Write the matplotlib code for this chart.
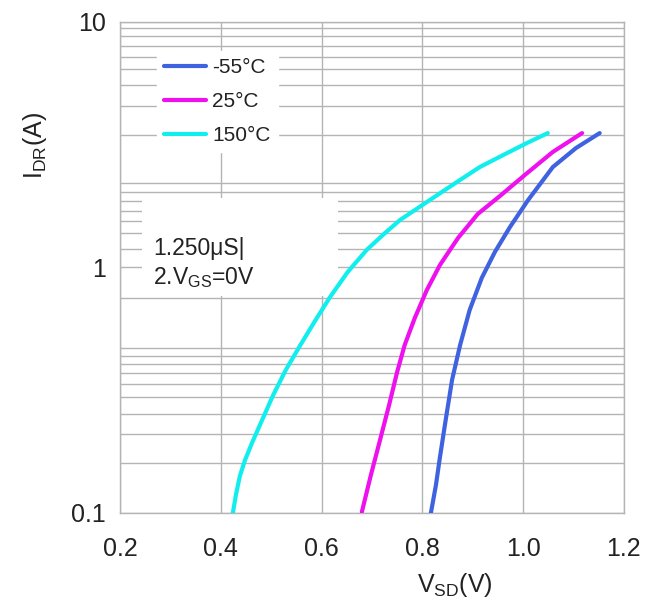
import numpy as np
import matplotlib.pyplot as plt
from matplotlib.ticker import FixedLocator, NullFormatter

plt.rcParams['font.family'] = ['Liberation Sans', 'DejaVu Sans']
plt.rcParams['mathtext.fontset'] = 'custom'
plt.rcParams['mathtext.rm'] = 'Liberation Sans'
plt.rcParams['mathtext.it'] = 'Liberation Sans'

# curves (V_SD in V, I_DR in A)
v_m55 = [0.817, 0.827, 0.835, 0.847, 0.859, 0.875, 0.894, 0.918, 0.944, 0.974,
         1.010, 1.059, 1.105, 1.152]
i_m55 = [0.100, 0.130, 0.169, 0.244, 0.348, 0.483, 0.671, 0.906, 1.155, 1.46,
         1.88, 2.56, 3.06, 3.52]

v_25 = [0.680, 0.698, 0.716, 0.734, 0.750, 0.765, 0.785, 0.809, 0.835, 0.871,
        0.910, 0.954, 1.008, 1.059, 1.117]
i_25 = [0.101, 0.143, 0.198, 0.275, 0.375, 0.483, 0.622, 0.809, 1.023, 1.318,
        1.649, 1.952, 2.42, 2.95, 3.52]

v_150 = [0.424, 0.430, 0.438, 0.448, 0.462, 0.482, 0.504, 0.529, 0.557, 0.587,
         0.617, 0.652, 0.690, 0.726, 0.756, 0.815, 0.865, 0.914, 0.964, 1.008, 1.049]
i_150 = [0.100, 0.1185, 0.1416, 0.164, 0.193, 0.239, 0.302, 0.382, 0.479, 0.605,
         0.758, 0.958, 1.18, 1.38, 1.56, 1.88, 2.20, 2.56, 2.89, 3.21, 3.52]

labels = ['-55°C', '25°C', '150°C']
colors = ['#3f63e0', '#ee11ee', '#11eeee']

# the original grid is not a clean log grid, these are its line levels
y_grid = [9.40, 8.75, 7.96, 7.21, 6.40, 5.53, 4.55, 3.46,
          2.20, 2.03, 1.87, 1.70, 1.55, 1.377, 1.185,
          0.748, 0.469, 0.436, 0.403, 0.371, 0.334, 0.296, 0.253, 0.209, 0.160]
x_ticks = [0.2, 0.4, 0.6, 0.8, 1.0, 1.2]
y_ticks = [0.1, 1, 10]

fig = plt.figure(figsize=(6.63, 6.11), dpi=100)
ax = fig.add_axes([0.181, 0.1604, 0.760, 0.8041])

for v, i, lab, c in zip([v_m55, v_25, v_150], [i_m55, i_25, i_150], labels, colors):
    ax.plot(v, i, color=c, lw=3.0, label=lab, solid_capstyle='round',
            solid_joinstyle='round', zorder=5)

ax.set_yscale('log')
ax.set_xlim(0.2, 1.2)
ax.set_ylim(0.1, 10)
ax.set_xticks(x_ticks)
ax.set_xticklabels(['0.2', '0.4', '0.6', '0.8', '1.0', '1.2'])
ax.yaxis.set_major_locator(FixedLocator(y_ticks))
ax.set_yticklabels(['0.1', '1', '10'])
ax.yaxis.set_minor_locator(FixedLocator(y_grid))
ax.yaxis.set_minor_formatter(NullFormatter())
ax.tick_params(which='both', length=0, colors='#222222')
ax.tick_params(axis='x', labelsize=18, pad=17)
ax.tick_params(axis='y', labelsize=18, pad=10)
ax.grid(True, which='both', color='#b4b4b4', lw=1.0)
ax.set_axisbelow(True)
for s in ax.spines.values():
    s.set_color('#b4b4b4')
    s.set_linewidth(1.0)

leg = ax.legend(loc='upper left', bbox_to_anchor=(0.053, 0.962), fontsize=15,
                frameon=True, fancybox=False, handlelength=2.0, handletextpad=0.3,
                labelspacing=0.72, borderpad=0.35)
leg.get_frame().set_edgecolor('white')
leg.get_frame().set_facecolor('white')
leg.get_frame().set_alpha(1.0)
leg.set_zorder(6)
for t in leg.get_texts():
    t.set_color('#222222')

# white note box
ax.add_patch(plt.Rectangle((0.043, 0.442), 0.39, 0.2, transform=ax.transAxes,
                           facecolor='white', edgecolor='none', zorder=3))
ax.text(0.065, 0.539, '1.250μS|', transform=ax.transAxes, fontsize=16.5,
        color='#222222', va='center', zorder=4)
ax.text(0.065, 0.480, '2.V$_{GS}$=0V', transform=ax.transAxes, fontsize=16.5,
        color='#222222', va='center', zorder=4)

fig.text(455 / 663, 1 - 585 / 611, 'V$_{SD}$(V)', fontsize=18, color='#222222',
         ha='center', va='center')
fig.text(35 / 663, 1 - 145 / 611, 'I$_{DR}$(A)', fontsize=18, color='#222222',
         ha='center', va='center', rotation=90)

fig.savefig('out.png', dpi=100, facecolor='white')
